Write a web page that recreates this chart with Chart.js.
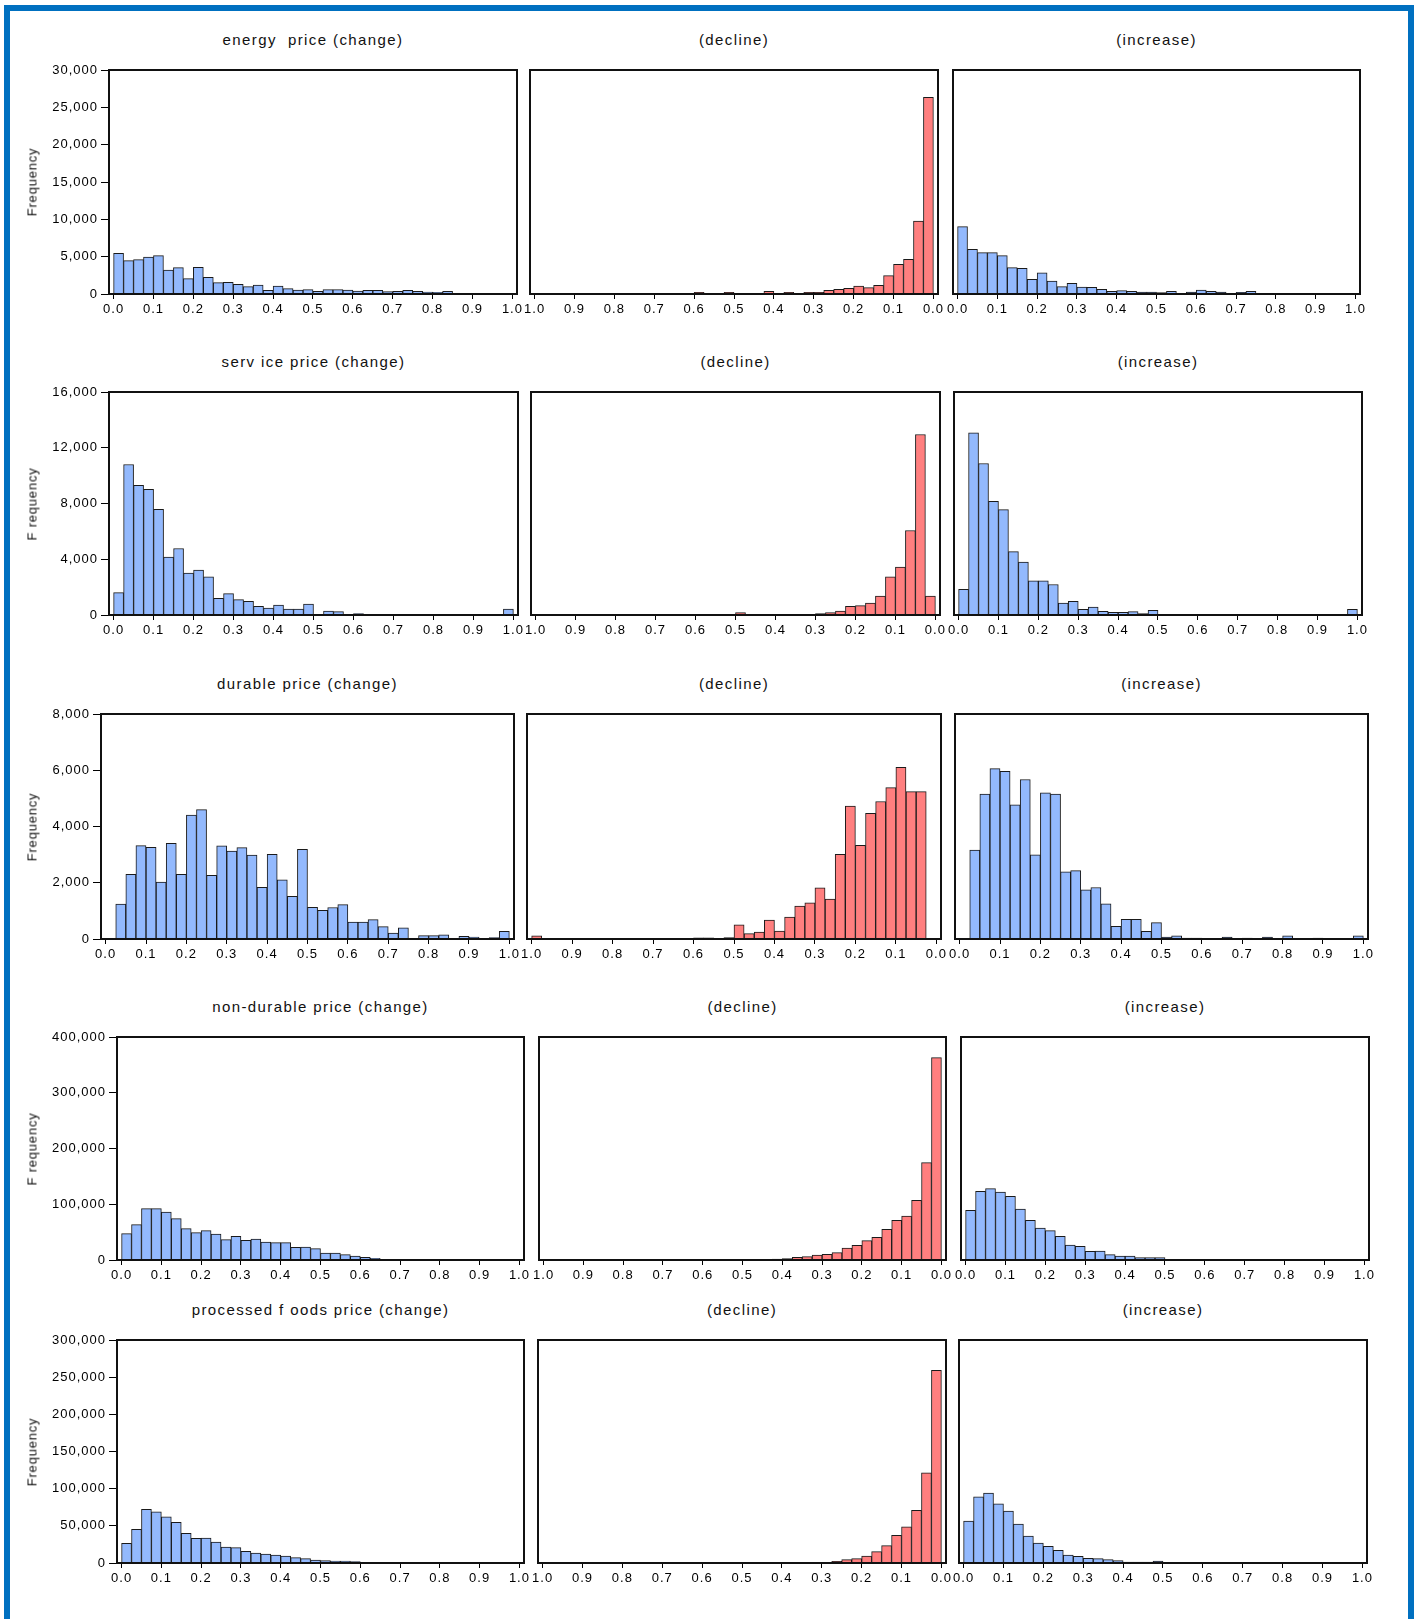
<!DOCTYPE html>
<html>
<head>
<meta charset="utf-8">
<script src="https://cdn.jsdelivr.net/npm/chart.js@4.4.0/dist/chart.umd.min.js"></script>
<style>
  html, body { margin: 0; padding: 0; background: #fff; }
  body { width: 1416px; height: 1619px; overflow: hidden; position: relative; font-family: "Liberation Sans", Arial, sans-serif; }
  #border { position: absolute; left: 4px; top: 5px; width: 1398px; height: 1700px; border: 6px solid #0070c0; }
  canvas { position: absolute; }
  .title { position: absolute; font-size: 15px; letter-spacing: 1.4px; color: #111; white-space: pre; transform: translate(-50%, -50%); }
  .ylab { position: absolute; font-size: 13px; letter-spacing: 0.8px; color: #111; white-space: pre; transform: translate(-50%, -50%) rotate(-90deg); }
</style>
</head>
<body>
<div id="border"></div>
<script>
// bin centres of the 40 histogram bins (width 0.025)
const binCenters = [0.0125, 0.0375, 0.0625, 0.0875, 0.1125, 0.1375, 0.1625, 0.1875, 0.2125, 0.2375,
  0.2625, 0.2875, 0.3125, 0.3375, 0.3625, 0.3875, 0.4125, 0.4375, 0.4625, 0.4875,
  0.5125, 0.5375, 0.5625, 0.5875, 0.6125, 0.6375, 0.6625, 0.6875, 0.7125, 0.7375,
  0.7625, 0.7875, 0.8125, 0.8375, 0.8625, 0.8875, 0.9125, 0.9375, 0.9625, 0.9875]

const energyChange = [5460, 4470, 4600, 4960, 5140, 3220, 3530, 2060, 3580, 2240,
  1520, 1570, 1300, 980, 1210, 490, 1070, 715, 540, 580,
  360, 580, 580, 540, 400, 490, 490, 310, 360, 490,
  360, 270, 220, 360, 0, 0, 0, 0, 0, 0]
const energyDecline = [26350, 9750, 4650, 3980, 2460, 1160, 850, 1070, 760, 630,
  490, 220, 220, 0, 220, 0, 360, 0, 0, 0,
  220, 0, 0, 220, 0, 0, 0, 0, 0, 0,
  0, 0, 0, 0, 0, 0, 0, 0, 0, 0]
const energyIncrease = [9030, 5990, 5550, 5550, 5140, 3530, 3440, 1970, 2820, 1740,
  980, 1430, 940, 890, 630, 360, 450, 360, 270, 270,
  180, 360, 0, 270, 540, 360, 270, 0, 220, 360,
  0, 0, 0, 0, 0, 0, 0, 0, 0, 0]

const serviceChange = [1600, 10800, 9300, 9010, 7580, 4150, 4770, 3000, 3220, 2740,
  1190, 1530, 1100, 980, 620, 500, 715, 430, 430, 790,
  0, 290, 240, 0, 100, 0, 0, 0, 0, 0,
  0, 0, 0, 0, 0, 0, 0, 0, 0, 430]
const serviceDecline = [1350, 12950, 6060, 3430, 2740, 1360, 860, 670, 620, 290,
  170, 100, 0, 0, 0, 0, 0, 0, 0, 170,
  0, 0, 0, 0, 0, 0, 0, 0, 0, 0,
  0, 0, 0, 0, 0, 0, 0, 0, 0, 0]
const serviceIncrease = [1840, 13070, 10870, 8150, 7560, 4550, 3790, 2460, 2460, 2190,
  860, 980, 400, 570, 260, 190, 190, 240, 100, 330,
  0, 0, 0, 0, 0, 0, 0, 0, 0, 0,
  0, 0, 0, 0, 0, 0, 0, 0, 0, 400]

const durableChange = [0, 1240, 2300, 3320, 3260, 2020, 3400, 2300, 4410, 4600,
  2260, 3310, 3130, 3250, 2980, 1840, 3010, 2100, 1520, 3190,
  1130, 1020, 1120, 1220, 600, 600, 690, 440, 210, 400,
  0, 120, 120, 150, 0, 95, 70, 0, 50, 270]
const durableDecline = [0, 5240, 5240, 6100, 5380, 4890, 4470, 3330, 4730, 3010,
  1420, 1820, 1290, 1170, 780, 280, 670, 250, 190, 500,
  50, 0, 40, 40, 0, 0, 0, 0, 0, 0,
  0, 0, 0, 0, 0, 0, 0, 0, 0, 110]
const durableIncrease = [0, 3160, 5150, 6060, 5960, 4770, 5670, 2990, 5200, 5150,
  2390, 2430, 1750, 1830, 1250, 450, 700, 700, 270, 580,
  70, 110, 35, 35, 0, 0, 70, 0, 35, 0,
  70, 0, 110, 0, 0, 35, 0, 0, 0, 110]

const nonDurableChange = [47200, 63400, 92100, 92100, 86100, 74100, 56200, 49000, 52600, 46600,
  36500, 42500, 35300, 37700, 32300, 31100, 31100, 22700, 23300, 20300,
  12600, 12600, 9600, 7200, 4800, 3000, 0, 0, 0, 0,
  0, 0, 0, 0, 0, 0, 0, 0, 0, 0]
const nonDurableDecline = [363000, 174600, 107000, 78900, 71200, 55000, 40700, 34700, 26300, 21500,
  13200, 10200, 9000, 6000, 4800, 2400, 1800, 0, 0, 0,
  0, 0, 0, 0, 0, 0, 0, 0, 0, 0,
  0, 0, 0, 0, 0, 0, 0, 0, 0, 0]
const nonDurableIncrease = [89100, 123200, 128000, 122000, 114200, 91500, 71200, 57400, 52600, 42500,
  26900, 24500, 15500, 16100, 9600, 7200, 7200, 4200, 4200, 4200,
  0, 0, 0, 0, 0, 0, 0, 0, 0, 0,
  0, 0, 0, 0, 0, 0, 0, 0, 0, 0]

const processedChange = [26400, 45200, 72100, 69000, 62200, 54600, 39900, 33100, 33600, 28200,
  21500, 20600, 15700, 13400, 12100, 10700, 9400, 7200, 5800, 4000,
  3100, 2700, 2700, 1800, 0, 0, 0, 0, 0, 0,
  0, 0, 0, 0, 0, 0, 0, 0, 0, 0]
const processedDecline = [259300, 121400, 70700, 48800, 37200, 23300, 15200, 9400, 5800, 4500,
  2200, 0, 0, 0, 0, 0, 0, 0, 0, 0,
  0, 0, 0, 0, 0, 0, 0, 0, 0, 0,
  0, 0, 0, 0, 0, 0, 0, 0, 0, 0]
const processedIncrease = [56400, 89100, 94000, 79700, 69900, 52400, 36300, 26900, 22400, 17000,
  10700, 9000, 6300, 5800, 4500, 3100, 1300, 1300, 1300, 2700,
  0, 0, 0, 0, 0, 0, 0, 0, 0, 0,
  0, 0, 0, 0, 0, 0, 0, 0, 0, 0]

const rowTitles = ['energy  price (change)', 'serv ice price (change)', 'durable price (change)',
  'non-durable price (change)', 'processed f oods price (change)']
const panelTitles = ['(decline)', '(increase)']
const yLabels = ['Frequency', 'F requency', 'Frequency', 'F requency', 'Frequency']
const yMax = [30000, 16000, 8000, 400000, 300000]
const yStep = [5000, 4000, 2000, 100000, 50000]
const rowData = [
  [energyChange, energyDecline, energyIncrease],
  [serviceChange, serviceDecline, serviceIncrease],
  [durableChange, durableDecline, durableIncrease],
  [nonDurableChange, nonDurableDecline, nonDurableIncrease],
  [processedChange, processedDecline, processedIncrease]
]

// frame boxes of each panel on the page
const layout = [
  { top: 70, bottom: 294, lefts: [109, 530, 953], rights: [517, 938, 1360] },
  { top: 392, bottom: 615, lefts: [109, 531, 954], rights: [518, 940, 1362] },
  { top: 714, bottom: 939, lefts: [101, 527, 955], rights: [514, 941, 1368] },
  { top: 1037, bottom: 1260, lefts: [117, 539, 961], rights: [524, 946, 1369] },
  { top: 1340, bottom: 1563, lefts: [117, 538, 959], rights: [524, 946, 1367] }
]

const blue = '#93b9fd'
const red = '#ff7f7f'
const padTop = 10
const padRight = 16
const padBottom = 30

Chart.defaults.font.family = '"Liberation Sans", Arial, sans-serif'
Chart.defaults.font.size = 13
Chart.defaults.color = '#000'

const framePlugin = {
  id: 'panelFrame',
  beforeDraw(chart) {
    chart.ctx.letterSpacing = '1px'
  },
  afterDraw(chart) {
    const { ctx, chartArea } = chart
    ctx.save()
    ctx.strokeStyle = '#111'
    ctx.lineWidth = 2
    ctx.strokeRect(chartArea.left, chartArea.top, chartArea.right - chartArea.left, chartArea.bottom - chartArea.top)
    ctx.restore()
  }
}

// keep the scales from pushing the plot area around
function noScalePadding(scale) {
  scale.paddingTop = 0
  scale.paddingBottom = 0
  scale.paddingLeft = 0
  scale.paddingRight = 0
}

function addText(cls, text, x, y) {
  const div = document.createElement('div')
  div.className = cls
  div.textContent = text
  div.style.left = x + 'px'
  div.style.top = y + 'px'
  document.body.appendChild(div)
}

function createPanel(row, col) {
  const box = layout[row]
  const frameLeft = box.lefts[col]
  const frameRight = box.rights[col]
  const canvasLeft = col === 0 ? 0 : frameLeft - padRight
  const canvas = document.createElement('canvas')
  canvas.width = frameRight + padRight - canvasLeft
  canvas.height = box.bottom - box.top + padTop + padBottom
  canvas.style.left = canvasLeft + 'px'
  canvas.style.top = (box.top - padTop) + 'px'
  document.body.appendChild(canvas)

  const values = rowData[row][col]
  new Chart(canvas.getContext('2d'), {
    type: 'bar',
    data: {
      datasets: [{
        data: binCenters.map((x, i) => ({ x: x, y: values[i] })),
        backgroundColor: col === 1 ? red : blue,
        borderColor: '#1a1a1a',
        borderWidth: 1,
        barPercentage: 1,
        categoryPercentage: 1
      }]
    },
    options: {
      responsive: false,
      animation: false,
      devicePixelRatio: 1,
      layout: { autoPadding: false, padding: { left: col === 0 ? 0 : padRight, right: padRight, top: padTop, bottom: 0 } },
      plugins: { legend: { display: false }, tooltip: { enabled: false } },
      scales: {
        x: {
          type: 'linear',
          min: -0.0115,
          max: 1.0115,
          reverse: col === 1,
          offset: false,
          afterFit: scale => {
            scale.height = padBottom
            noScalePadding(scale)
          },
          grid: { offset: false, drawOnChartArea: false, drawTicks: true, tickLength: 5, color: '#000' },
          border: { display: false },
          ticks: {
            stepSize: 0.1,
            includeBounds: false,
            autoSkip: false,
            maxRotation: 0,
            padding: 3,
            callback: value => value.toFixed(1)
          }
        },
        y: {
          display: col === 0,
          min: 0,
          max: yMax[row],
          afterFit: scale => {
            scale.width = col === 0 ? frameLeft : 0
            noScalePadding(scale)
          },
          grid: { drawOnChartArea: false, drawTicks: true, tickLength: 8, color: '#000' },
          border: { display: false },
          ticks: {
            stepSize: yStep[row],
            padding: 3,
            callback: value => value.toLocaleString('en-US')
          }
        }
      }
    },
    plugins: [framePlugin]
  })

  const title = col === 0 ? rowTitles[row] : panelTitles[col - 1]
  addText('title', title, (frameLeft + frameRight) / 2, box.top - 31)
  if (col === 0) {
    addText('ylab', yLabels[row], 32, (box.top + box.bottom) / 2)
  }
}

document.addEventListener('DOMContentLoaded', function () {
  for (let row = 0; row < layout.length; row++) {
    for (let col = 0; col < 3; col++) {
      createPanel(row, col)
    }
  }
})
</script>
</body>
</html>
